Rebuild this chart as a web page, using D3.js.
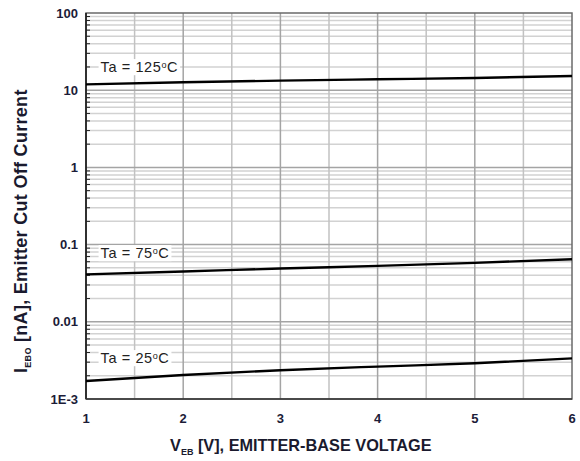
<!DOCTYPE html>
<html>
<head>
<meta charset="utf-8">
<script src="https://cdn.jsdelivr.net/npm/d3@7"></script>
<style>
  body { margin: 0; background: #fff; }
  text { font-family: "Liberation Sans", Arial, sans-serif; }
</style>
</head>
<body>
<div id="chart"></div>
<script>
// Data
const vebValues = [1, 2, 3, 4, 5, 6];
const iebo125 = [11.9, 12.65, 13.3, 13.85, 14.4, 15.3];
const iebo75 = [0.0412, 0.0448, 0.049, 0.053, 0.058, 0.0646];
const iebo25 = [0.00171, 0.00205, 0.00236, 0.00263, 0.0029, 0.00336];
const seriesLabels = ["Ta = 125", "Ta = 75", "Ta = 25"];
const xTicks = [1, 2, 3, 4, 5, 6];
const yTicks = [100, 10, 1, 0.1, 0.01, 0.001];
const yTickLabels = ["100", "10", "1", "0.1", "0.01", "1E-3"];

// Set up dimensions and margins
const width = 580, height = 461;
const margin = { top: 13, right: 8, bottom: 62, left: 86 };

const svg = d3.select("#chart")
              .append("svg")
              .attr("width", width)
              .attr("height", height);

const x = d3.scaleLinear().domain([1, 6]).range([margin.left, width - margin.right]);
const y = d3.scaleLog().domain([0.001, 100]).range([height - margin.bottom, margin.top]);

// Grid: minor horizontal lines
const minorY = [];
for (let e = -3; e < 2; e++) {
    for (let m = 2; m <= 9; m++) minorY.push(m * Math.pow(10, e));
}
svg.append("g")
   .selectAll("line")
   .data(minorY)
   .enter()
   .append("line")
   .attr("x1", x(1)).attr("x2", x(6))
   .attr("y1", d => y(d)).attr("y2", d => y(d))
   .attr("stroke", "#d2d2d2")
   .attr("stroke-width", 1.5);

// Small ticks on left axis
svg.append("g")
   .selectAll("line")
   .data(minorY)
   .enter()
   .append("line")
   .attr("x1", x(1)).attr("x2", x(1) + 4)
   .attr("y1", d => y(d)).attr("y2", d => y(d))
   .attr("stroke", "#222")
   .attr("stroke-width", 1);

// Vertical grid lines every 0.5
const halfX = d3.range(1.5, 6, 0.5);
svg.append("g")
   .selectAll("line")
   .data(halfX)
   .enter()
   .append("line")
   .attr("x1", d => x(d)).attr("x2", d => x(d))
   .attr("y1", y(0.001)).attr("y2", y(100))
   .attr("stroke", d => Number.isInteger(d) ? "#a4a4a4" : "#c2c2c2")
   .attr("stroke-width", 1.5);

// Decade lines
svg.append("g")
   .selectAll("line")
   .data(yTicks.slice(1, -1))
   .enter()
   .append("line")
   .attr("x1", x(1)).attr("x2", x(6))
   .attr("y1", d => y(d)).attr("y2", d => y(d))
   .attr("stroke", "#a4a4a4")
   .attr("stroke-width", 1.5);

// Frame
svg.append("rect")
   .attr("x", x(1)).attr("y", y(100))
   .attr("width", x(6) - x(1)).attr("height", y(0.001) - y(100))
   .attr("fill", "none")
   .attr("stroke", "#6a6a6a")
   .attr("stroke-width", 1.5);
svg.append("line")
   .attr("x1", x(1)).attr("x2", x(1))
   .attr("y1", y(100)).attr("y2", y(0.001))
   .attr("stroke", "#111").attr("stroke-width", 1.5);
svg.append("line")
   .attr("x1", x(1)).attr("x2", x(6))
   .attr("y1", y(0.001)).attr("y2", y(0.001))
   .attr("stroke", "#333").attr("stroke-width", 1.5);

// Curves
const line = d3.line()
               .x(d => x(d[0]))
               .y(d => y(d[1]))
               .curve(d3.curveMonotoneX);

const allSeries = [iebo125, iebo75, iebo25];
allSeries.forEach(vals => {
    svg.append("path")
       .datum(vebValues.map((v, i) => [v, vals[i]]))
       .attr("d", line)
       .attr("fill", "none")
       .attr("stroke", "#000")
       .attr("stroke-width", 2.4);
});

// Curve labels, with a white box behind them
const labelPos = [
    { v: 1.15, yy: 67 },
    { v: 1.15, yy: 253 },
    { v: 1.15, yy: 358 }
];
seriesLabels.forEach((lab, i) => {
    const g = svg.append("g");
    const t = g.append("text")
               .attr("x", x(labelPos[i].v))
               .attr("y", labelPos[i].yy)
               .attr("dy", "0.35em")
               .attr("font-size", 14.5)
               .attr("letter-spacing", 0.6)
               .attr("fill", "#222");
    t.append("tspan").text(lab);
    t.append("tspan").attr("font-size", 9).attr("dy", "-0.5em").text("o");
    t.append("tspan").attr("dy", "0.32em").text("C");
    const bb = t.node().getBBox();
    g.insert("rect", "text")
     .attr("x", bb.x - 2).attr("y", bb.y)
     .attr("width", bb.width + 4).attr("height", bb.height)
     .attr("fill", "#fff");
});

// Axes tick labels
svg.append("g")
   .selectAll("text")
   .data(xTicks)
   .enter()
   .append("text")
   .attr("x", d => x(d))
   .attr("y", 418)
   .attr("dy", "0.35em")
   .attr("text-anchor", "middle")
   .attr("font-size", 13)
   .attr("font-weight", "bold")
   .attr("fill", "#1c1c38")
   .text(d => d);

svg.append("g")
   .selectAll("text")
   .data(yTicks)
   .enter()
   .append("text")
   .attr("x", 78)
   .attr("y", d => y(d))
   .attr("dy", "0.35em")
   .attr("text-anchor", "end")
   .attr("font-size", 13)
   .attr("font-weight", "bold")
   .attr("fill", "#1c1c38")
   .text((d, i) => yTickLabels[i]);

// Axis titles
const xt = svg.append("text")
              .attr("x", 170)
              .attr("y", 451)
              .attr("font-size", 16.3)
              .attr("font-weight", "bold")
              .attr("fill", "#1a1a2e");
xt.append("tspan").text("V");
xt.append("tspan").attr("font-size", 9).attr("dy", 4).text("EB");
xt.append("tspan").attr("dy", -4).text(" [V], EMITTER-BASE VOLTAGE");

const yt = svg.append("text")
              .attr("transform", "translate(27,373) rotate(-90)")
              .attr("font-size", 18)
              .attr("letter-spacing", 0.3)
              .attr("font-weight", "bold")
              .attr("fill", "#1a1a2e");
yt.append("tspan").text("I");
yt.append("tspan").attr("font-size", 9).attr("dy", 4).text("EBO");
yt.append("tspan").attr("dy", -4).text(" [nA], Emitter Cut Off Current");
</script>
</body>
</html>
